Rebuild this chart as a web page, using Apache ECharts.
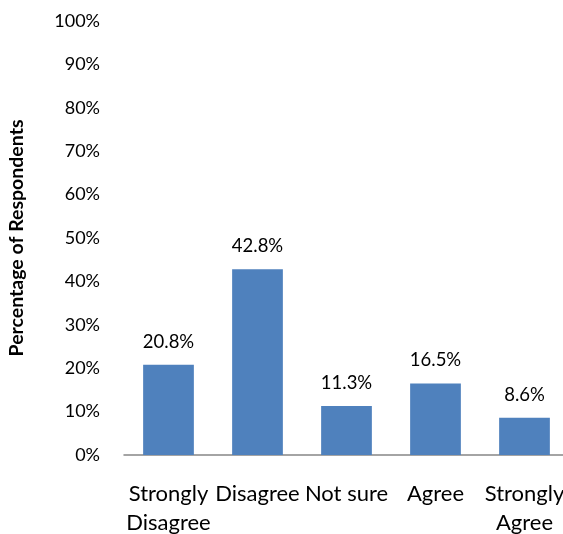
<!DOCTYPE html>
<html>
<head>
<meta charset="utf-8">
<script src="https://cdn.jsdelivr.net/npm/echarts@6/dist/echarts.min.js"></script>
<style>
  html, body { margin: 0; padding: 0; background: #fff; }
  #chart { width: 563px; height: 534px; }
</style>
</head>
<body>
<div id="chart"></div>
<script>
// Survey responses, share of respondents per answer
const categories = ['Strongly\nDisagree', 'Disagree', 'Not sure', 'Agree', 'Strongly\nAgree'];
const percentages = [20.8, 42.8, 11.3, 16.5, 8.6];
const yTicks = [0, 10, 20, 30, 40, 50, 60, 70, 80, 90, 100];

const FONT = 'Lato';

const chart = echarts.init(document.getElementById('chart'), null, { renderer: 'canvas' });
chart.setOption({
  animation: false,
  textStyle: { fontFamily: FONT, color: '#000' },
  grid: {
    left: 124, top: 21, bottom: 79, right: -6,
    containLabel: false,
    outerBoundsMode: 'none'
  },
  xAxis: {
    type: 'category',
    data: categories,
    axisLine: { show: true, lineStyle: { color: '#868686', width: 1.5 } },
    axisTick: { show: false },
    axisLabel: {
      interval: 0,
      fontFamily: FONT,
      fontSize: 22,
      color: '#000',
      lineHeight: 29,
      margin: 24
    }
  },
  yAxis: {
    type: 'value',
    min: yTicks[0],
    max: yTicks[yTicks.length - 1],
    interval: 10,
    name: 'Percentage of Respondents',
    nameLocation: 'middle',
    nameGap: 97,
    nameTextStyle: { fontFamily: FONT, fontSize: 19.5, fontWeight: 'bold', color: '#000' },
    axisLine: { show: false },
    axisTick: { show: false },
    splitLine: { show: false },
    axisLabel: {
      fontFamily: FONT,
      fontSize: 18,
      color: '#000',
      margin: 24,
      formatter: v => v + '%'
    }
  },
  series: [{
    type: 'bar',
    data: percentages,
    barCategoryGap: '43%',
    itemStyle: { color: '#4F81BD' },
    label: {
      show: true,
      position: 'top',
      distance: 13,
      fontFamily: FONT,
      fontSize: 18.5,
      lineHeight: 20,
      color: '#000',
      formatter: p => p.value.toFixed(1) + '%'
    }
  }]
});
</script>
</body>
</html>
